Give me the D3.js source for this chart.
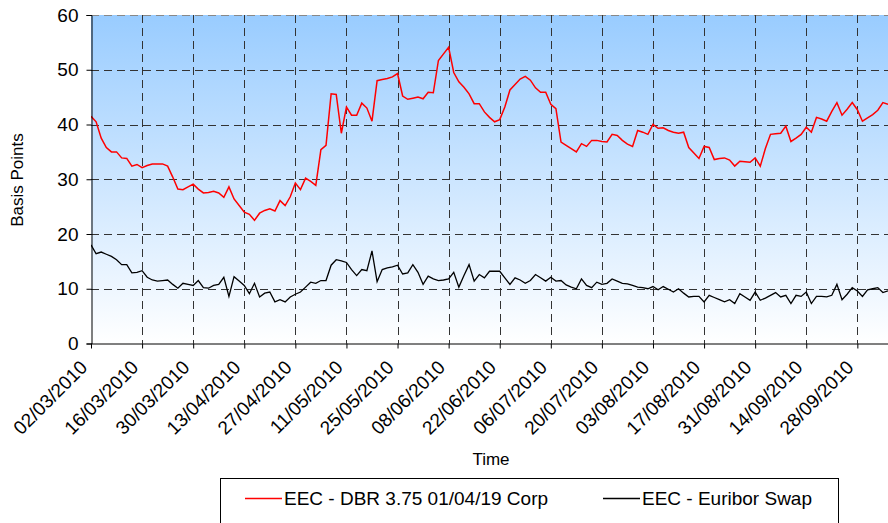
<!DOCTYPE html>
<html><head><meta charset="utf-8">
<script src="https://cdn.jsdelivr.net/npm/d3@7/dist/d3.min.js"></script>
<style>body{margin:0;background:#fff}svg{display:block}text{font-family:"Liberation Sans",Arial,sans-serif}</style>
</head><body><svg id="c" width="888" height="523"></svg>
<script>
const tickLabels = ["02/03/2010","16/03/2010","30/03/2010","13/04/2010","27/04/2010","11/05/2010","25/05/2010","08/06/2010","22/06/2010","06/07/2010","20/07/2010","03/08/2010","17/08/2010","31/08/2010","14/09/2010","28/09/2010"];
const yTicks = [0,10,20,30,40,50,60];
const seriesNames = ["EEC - DBR 3.75 01/04/19 Corp","EEC - Euribor Swap"];
const dbrValues = [41.5,40.5,37.5,35.8,35.0,35.0,33.9,33.8,32.4,32.7,32.1,32.5,32.8,32.8,32.8,32.4,30.4,28.2,28.1,28.6,
29.1,28.2,27.5,27.6,27.8,27.5,26.7,28.6,26.4,25.2,24.0,23.6,22.5,23.8,24.3,24.6,24.2,26.1,25.2,26.8,
29.3,28.1,30.2,29.6,28.9,35.4,36.2,45.6,45.5,38.4,43.2,41.7,41.7,43.9,43.0,40.6,48.0,48.2,48.4,48.7,
49.3,45.2,44.6,44.8,45.0,44.7,45.9,45.8,51.7,52.9,54.1,49.5,47.8,46.8,45.6,43.8,43.8,42.3,41.3,40.5,
40.9,43.2,46.3,47.3,48.3,48.8,48.1,46.7,45.9,45.9,43.7,42.9,36.8,36.2,35.6,35.0,36.5,36.0,37.1,37.1,
36.9,36.8,38.2,38.0,37.1,36.4,36.0,38.9,38.6,38.2,40.0,39.3,39.4,38.9,38.6,38.4,38.6,35.8,34.8,33.8,
36.0,35.8,33.6,33.8,33.9,33.5,32.4,33.3,33.2,33.1,33.9,32.4,35.6,38.2,38.3,38.4,39.7,36.9,37.5,38.2,
39.5,38.6,41.3,41.0,40.6,42.4,44.0,41.7,42.8,44.0,42.7,40.6,41.2,41.8,42.6,44.0,43.7];
const swapValues = [18.0,16.4,16.7,16.3,15.9,15.3,14.4,14.4,12.9,13.0,13.3,12.1,11.6,11.4,11.5,11.6,10.8,10.1,11.0,10.8,
10.6,11.5,10.2,10.1,10.6,10.8,12.1,8.6,12.2,11.4,10.6,9.1,11.0,8.5,9.2,9.4,7.6,8.0,7.6,8.5,
9.0,9.4,10.3,11.2,11.0,11.5,11.5,14.3,15.3,15.1,14.8,13.5,12.4,13.5,13.3,16.9,11.3,13.5,13.8,14.0,
14.3,12.7,12.9,14.4,13.0,10.8,12.3,11.8,11.5,11.6,11.8,13.0,10.3,12.4,14.4,11.4,12.6,12.0,13.2,13.2,
13.2,12.0,10.8,12.0,11.6,11.0,11.5,12.6,12.0,11.4,12.1,11.4,11.5,10.7,10.3,10.0,11.8,10.6,10.2,11.2,
10.8,11.0,11.8,11.4,11.0,10.9,10.6,10.3,10.2,10.0,10.4,9.8,10.4,9.9,9.4,10.0,9.2,8.5,8.6,8.6,
7.6,8.8,8.4,8.0,7.6,8.0,7.3,9.1,8.5,7.9,9.4,7.9,8.3,8.8,9.3,8.5,8.8,7.3,8.8,8.6,
9.4,7.3,8.6,8.6,8.5,8.8,10.8,8.0,9.0,10.2,9.6,8.6,9.8,10.0,10.2,9.3,9.6];
const ticksEvery = 10;

const svg = d3.select("#c");
const L = 91, R = 888, T = 15, B = 343.5;
const x = d3.scaleLinear().domain([0, dbrValues.length - 1]).range([L, R]);
const y = d3.scaleLinear().domain([0, 60]).range([B, T]);

const defs = svg.append("defs");
const g = defs.append("linearGradient").attr("id","bg").attr("x1",0).attr("y1",0).attr("x2",0).attr("y2",1);
g.append("stop").attr("offset","0%").attr("stop-color","#99ccff");
g.append("stop").attr("offset","100%").attr("stop-color","#ffffff");
defs.append("clipPath").attr("id","clip").append("rect").attr("x",L).attr("y",T-2).attr("width",R-L).attr("height",B-T+4);

svg.append("rect").attr("x",L).attr("y",T).attr("width",R-L).attr("height",B-T).attr("fill","url(#bg)");

// horizontal grid
svg.append("g").selectAll("line").data(yTicks.filter(d=>d>0)).join("line")
  .attr("x1",L).attr("x2",R).attr("y1",d=>Math.round(y(d))+0.5).attr("y2",d=>Math.round(y(d))+0.5)
  .attr("stroke",d=>d===60?"#888":"#333").attr("stroke-width",1).attr("stroke-dasharray","8,5");
// vertical grid
const tickIdx = tickLabels.map((d,i)=>i*ticksEvery);
svg.append("g").selectAll("line").data(tickIdx.filter(d=>d>0)).join("line")
  .attr("x1",d=>Math.round(x(d))+0.5).attr("x2",d=>Math.round(x(d))+0.5).attr("y1",T).attr("y2",B)
  .attr("stroke","#333").attr("stroke-width",1).attr("stroke-dasharray","8,5");

const line = d3.line().x((d,i)=>x(i)).y(d=>y(d));
const plot = svg.append("g").attr("clip-path","url(#clip)");
plot.append("path").datum(swapValues).attr("d",line).attr("fill","none").attr("stroke","#000").attr("stroke-width",1.3);
plot.append("path").datum(dbrValues).attr("d",line).attr("fill","none").attr("stroke","#ff0000").attr("stroke-width",1.5);

// axes
const yAxis = d3.axisLeft(y).tickValues(yTicks).tickSize(5).tickPadding(8);
const ya = svg.append("g").attr("transform",`translate(${L+0.5},0)`).call(yAxis);
ya.select(".domain").attr("stroke","#000");
ya.selectAll("text").attr("font-size","19px").attr("fill","#000");

const xAxis = d3.axisBottom(x).tickValues(tickIdx).tickFormat((d,i)=>tickLabels[i]).tickSize(5).tickSizeOuter(0);
const xa = svg.append("g").attr("transform",`translate(0,${B})`).call(xAxis);
xa.select(".domain").attr("stroke","#000");
xa.selectAll("text").attr("font-size","19px").attr("fill","#000")
  .attr("text-anchor","end").attr("dy","0").attr("dx","0")
  .attr("transform","translate(-3,25) rotate(-45)").attr("y",0);

svg.append("text").attr("x",491).attr("y",465).attr("text-anchor","middle").attr("font-size","17px").text("Time");
svg.append("text").attr("transform","translate(23,180) rotate(-90)").attr("text-anchor","middle").attr("font-size","17px").text("Basis Points");

// legend
svg.append("rect").attr("x",220.5).attr("y",478.5).attr("width",618).attr("height",60).attr("fill","#fff").attr("stroke","#000");
const leg = [{name:seriesNames[0],color:"#ff0000",x:245},{name:seriesNames[1],color:"#000",x:603}];
leg.forEach(l=>{
  svg.append("line").attr("x1",l.x).attr("x2",l.x+37).attr("y1",498.5).attr("y2",498.5).attr("stroke",l.color).attr("stroke-width",1.5);
  svg.append("text").attr("x",l.x+39).attr("y",505).attr("font-size","19px").text(l.name);
});
</script></body></html>
